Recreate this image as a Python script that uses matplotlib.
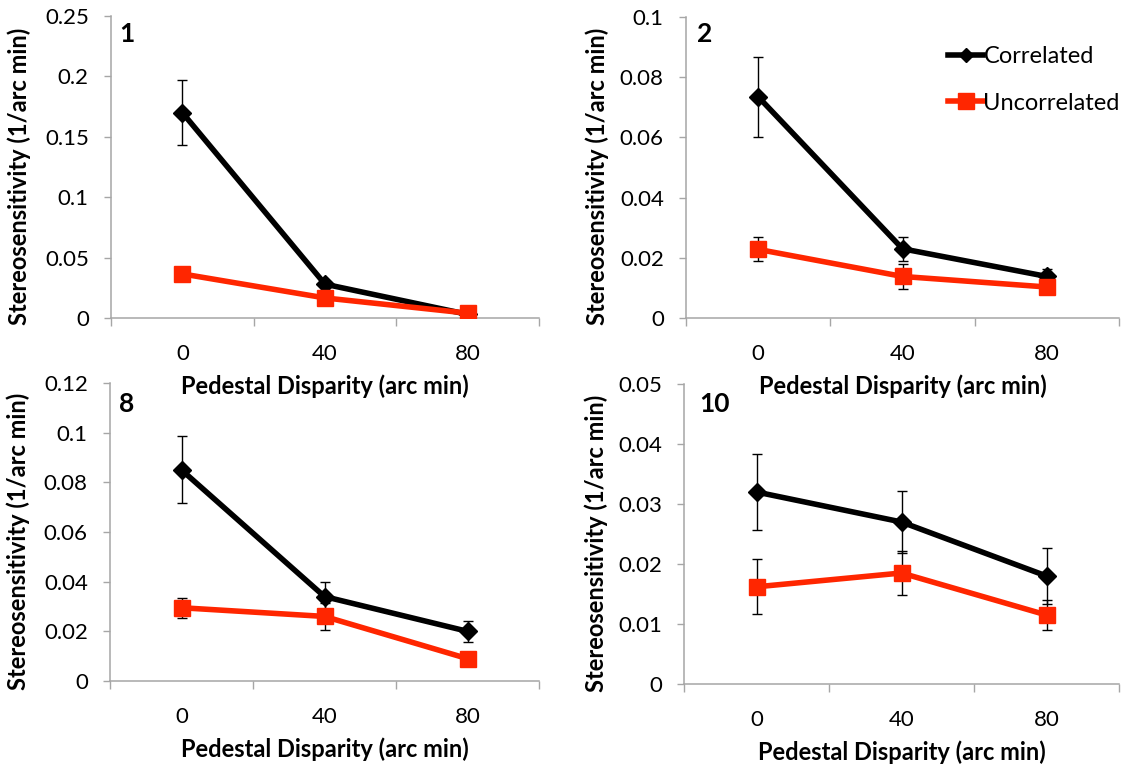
import matplotlib
matplotlib.use("Agg")
import matplotlib.pyplot as plt
from matplotlib.lines import Line2D

plt.rcParams['font.family'] = ['Lato', 'DejaVu Sans']

categories = ["0", "40", "80"]
panel_names = ["1", "2", "8", "10"]

corr_1 = [0.170, 0.028, 0.003]
corr_err_1 = [0.027, 0.003, 0.001]
uncorr_1 = [0.0365, 0.0166, 0.004]
uncorr_err_1 = [0.004, 0.002, 0.001]

corr_2 = [0.0735, 0.023, 0.0138]
corr_err_2 = [0.0133, 0.004, 0.0024]
uncorr_2 = [0.0228, 0.0138, 0.0103]
uncorr_err_2 = [0.004, 0.004, 0.001]

corr_8 = [0.085, 0.034, 0.020]
corr_err_8 = [0.0135, 0.006, 0.0042]
uncorr_8 = [0.0295, 0.026, 0.009]
uncorr_err_8 = [0.004, 0.0055, 0.001]

corr_10 = [0.032, 0.027, 0.018]
corr_err_10 = [0.0063, 0.0052, 0.0047]
uncorr_10 = [0.0162, 0.0185, 0.0115]
uncorr_err_10 = [0.0046, 0.0036, 0.0025]

ylims = [0.25, 0.1, 0.12, 0.05]
yticks = [
    [0, 0.05, 0.1, 0.15, 0.2, 0.25],
    [0, 0.02, 0.04, 0.06, 0.08, 0.1],
    [0, 0.02, 0.04, 0.06, 0.08, 0.1, 0.12],
    [0, 0.01, 0.02, 0.03, 0.04, 0.05],
]
ytick_labels = [
    ["0", "0.05", "0.1", "0.15", "0.2", "0.25"],
    ["0", "0.02", "0.04", "0.06", "0.08", "0.1"],
    ["0", "0.02", "0.04", "0.06", "0.08", "0.1", "0.12"],
    ["0", "0.01", "0.02", "0.03", "0.04", "0.05"],
]

data = [
    (corr_1, corr_err_1, uncorr_1, uncorr_err_1),
    (corr_2, corr_err_2, uncorr_2, uncorr_err_2),
    (corr_8, corr_err_8, uncorr_8, uncorr_err_8),
    (corr_10, corr_err_10, uncorr_10, uncorr_err_10),
]

W, H = 1122, 765
# axes boxes in pixels: left, top, right, bottom
boxes_px = [
    (111, 16, 539, 318),
    (686, 17, 1119, 318),
    (110, 383, 539, 681),
    (684, 384, 1119, 684),
]
# panel number offsets (px from axes left, px from axes top)
num_off = [(8, 6), (11, 5), (9, 9), (15, 8)]
# y-label right edge offset from axes left, px
ylab_off = [80, 77, 80, 76]

RED = "#ff2600"
GRAY = "#a6a6a6"

fig = plt.figure(figsize=(W / 100, H / 100), dpi=100)
fig.patch.set_facecolor("white")

axes = []
for i in range(4):
    l, t, r, b = boxes_px[i]
    wpx, hpx = r - l, b - t
    ax = fig.add_axes([l / W, 1 - b / H, wpx / W, hpx / H])
    ax.patch.set_visible(False)
    axes.append(ax)
    c, ce, u, ue = data[i]
    x = list(range(len(categories)))
    ax.errorbar(x, c, yerr=ce, color="black", lw=4.0, marker="D", ms=9,
                ecolor="black", elinewidth=1.0, capsize=3.3, capthick=1.0, zorder=2)
    ax.errorbar(x, u, yerr=ue, color=RED, lw=4.0, marker="s", ms=12,
                ecolor="black", elinewidth=1.0, capsize=3.3, capthick=1.0, zorder=3)
    ax.set_xlim(-0.5, 2.5)
    ax.set_ylim(0, ylims[i])
    ax.set_yticks(yticks[i])
    ax.set_yticklabels(ytick_labels[i], fontsize=16)
    ax.set_xticks(x)
    ax.set_xticklabels(categories, fontsize=16)
    ax.set_xticks([-0.5, 0.5, 1.5, 2.5], minor=True)
    ax.tick_params(axis="x", which="major", length=0, pad=18.5)
    ax.tick_params(axis="x", which="minor", length=5.5, color=GRAY, width=1.0, direction="out")
    ax.tick_params(axis="y", length=5, color=GRAY, width=1.0, direction="out", pad=11)
    for s in ["top", "right"]:
        ax.spines[s].set_visible(False)
    for s in ["left", "bottom"]:
        ax.spines[s].set_color(GRAY)
        ax.spines[s].set_linewidth(1.1)
    ax.set_xlabel("Pedestal Disparity (arc min)", fontsize=17, fontweight="bold")
    ax.xaxis.set_label_coords(0.5, -56 / hpx)
    ax.set_ylabel("Stereosensitivity (1/arc min)", fontsize=17, fontweight="bold")
    ax.yaxis.set_label_coords(-ylab_off[i] / wpx, 0.47)
    nx, ny = num_off[i]
    ax.text(nx / wpx, 1 - ny / hpx, panel_names[i], transform=ax.transAxes, fontsize=19,
            fontweight="bold", va="top", ha="left")

handles = [
    Line2D([], [], color="black", lw=4.0, marker="D", ms=7),
    Line2D([], [], color=RED, lw=4.0, marker="s", ms=12),
]
l, t, r, b = boxes_px[1]
axes[1].legend(handles, ["Correlated", "Uncorrelated"], loc="upper left",
               bbox_to_anchor=((948 - l) / (r - l), (b - 46) / (b - t)),
               frameon=False, fontsize=17, borderpad=0, borderaxespad=0,
               handlelength=1.5, handletextpad=0.0, labelspacing=1.08)

fig.savefig("out.png", dpi=100, facecolor="white")
